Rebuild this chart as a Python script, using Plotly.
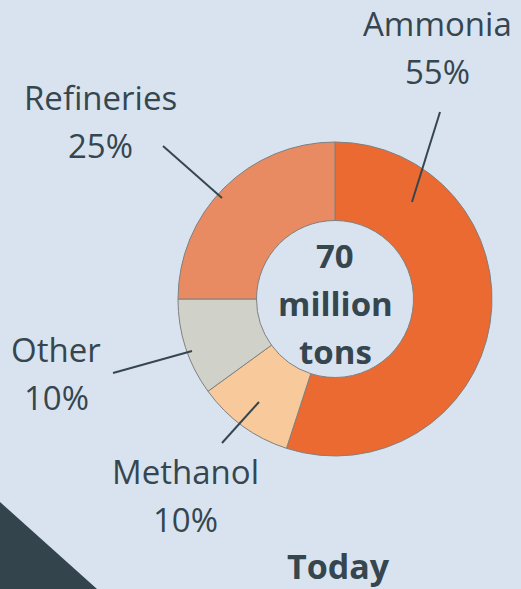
import plotly.graph_objects as go

# Hydrogen demand by end use (share of total), drawn clockwise from 12 o'clock
segments = ["Ammonia", "Methanol", "Other", "Refineries"]
shares = [55, 10, 10, 25]
total_label = ["70", "million", "tons"]
period = "Today"

W, H = 521, 589
BG = "#d9e3ef"
INK = "#36464f"
FONT = "Open Sans"
slice_colors = ["#ea6a32", "#f8c99a", "#d0d1c9", "#e88a62"]

# donut geometry in pixels
CX, CY, R = 335, 299, 157


def px(x):
    return x / W


def py(y):
    return 1 - y / H


fig = go.Figure(
    go.Pie(
        labels=segments,
        values=shares,
        sort=False,
        direction="clockwise",
        rotation=0,
        hole=0.5,
        textinfo="none",
        hoverinfo="label+percent",
        marker=dict(colors=slice_colors, line=dict(color="#808080", width=1)),
        domain=dict(x=[px(CX - R), px(CX + R)], y=[py(CY + R), py(CY - R)]),
        showlegend=False,
    )
)

# label placement: text centre (x, first-line y), leader line start and end
label_layout = {
    "Ammonia": dict(x=437, y=23, line=((440, 112), (412, 202))),
    "Refineries": dict(x=100, y=97, line=((163, 146), (222, 198))),
    "Other": dict(x=56, y=349, line=((113, 373), (192, 351))),
    "Methanol": dict(x=185, y=471, line=((222, 443), (259, 402))),
}
LINE_GAP = 48
LABEL_SIZE = 33
CENTER_SIZE = 33
PERIOD_SIZE = 34

annotations = []
shapes = [
    dict(
        type="path",
        xref="paper",
        yref="paper",
        path=f"M 0 {py(502)} L 0 0 L {px(97)} 0 Z",
        fillcolor="#33444d",
        line=dict(width=0),
        layer="above",
    )
]

for name, share in zip(segments, shares):
    cfg = label_layout[name]
    for i, txt in enumerate([name, f"{share}%"]):
        annotations.append(
            dict(
                x=px(cfg["x"]), y=py(cfg["y"] + i * LINE_GAP),
                xref="paper", yref="paper",
                text=txt, showarrow=False,
                xanchor="center", yanchor="middle",
                font=dict(family=FONT, size=LABEL_SIZE, color=INK),
            )
        )
    (x0, y0), (x1, y1) = cfg["line"]
    shapes.append(
        dict(
            type="line", xref="paper", yref="paper",
            x0=px(x0), y0=py(y0), x1=px(x1), y1=py(y1),
            line=dict(color=INK, width=2),
        )
    )

for i, txt in enumerate(total_label):
    annotations.append(
        dict(
            x=px(CX), y=py(255 + i * LINE_GAP),
            xref="paper", yref="paper",
            text=f"<b>{txt}</b>", showarrow=False,
            xanchor="center", yanchor="middle",
            font=dict(family=FONT, size=CENTER_SIZE, color=INK),
        )
    )

annotations.append(
    dict(
        x=px(CX + 3), y=py(566),
        xref="paper", yref="paper",
        text=f"<b>{period}</b>", showarrow=False,
        xanchor="center", yanchor="middle",
        font=dict(family=FONT, size=PERIOD_SIZE, color=INK),
    )
)

fig.update_layout(
    width=W,
    height=H,
    margin=dict(l=0, r=0, t=0, b=0),
    paper_bgcolor=BG,
    plot_bgcolor=BG,
    annotations=annotations,
    shapes=shapes,
)

fig.write_html("out.html")
